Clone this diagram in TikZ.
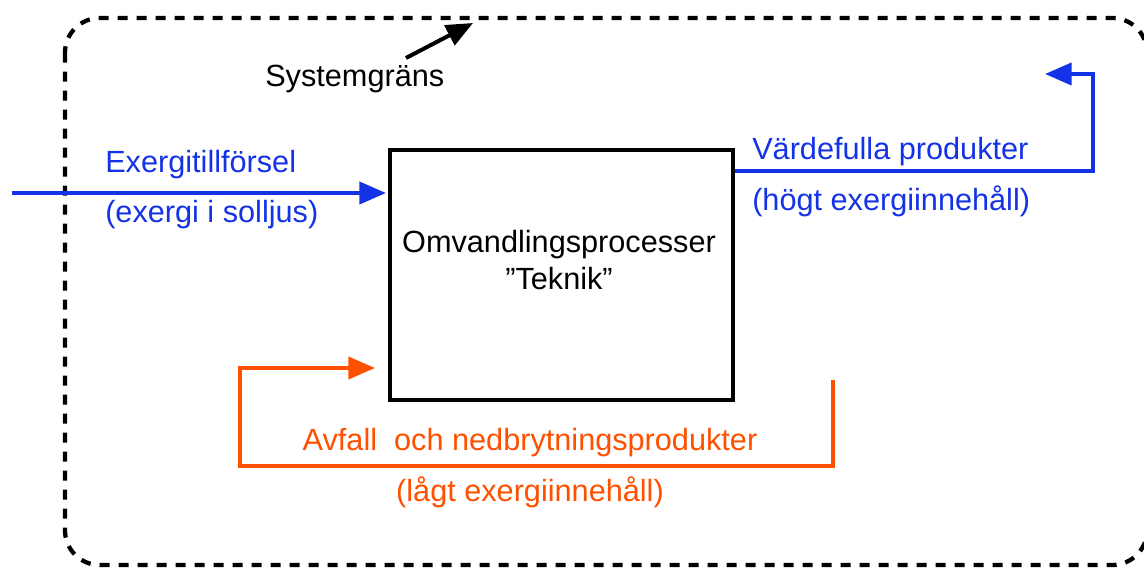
\documentclass[tikz,border=0pt]{standalone}
\usepackage{fontspec}
\setmainfont{Liberation Sans}
\usetikzlibrary{arrows.meta,calc,positioning}
\definecolor{flowblue}{RGB}{20,50,230}
\definecolor{wasteorange}{RGB}{255,80,0}

\begin{document}
\begin{tikzpicture}[
  x=0.75pt, y=-0.75pt,
  font=\fontsize{23}{27}\selectfont,
  border/.style={line width=3.2pt, dash pattern=on 7.5pt off 6.75pt, rounded corners=26pt},
  procbox/.style={draw, line width=3pt, minimum width=257.25pt, minimum height=187.5pt, inner sep=0pt},
  flow/.style={line width=3pt, line join=miter, -{Triangle[length=20pt,width=16.5pt]}},
  lbl/.style={inner sep=0pt}
]
\useasboundingbox (0,0) rectangle (1144,567);

%================================================
% SYSTEM BOUNDARY
%================================================
\draw[border] (65,18) rectangle (1147,565);

\node[lbl, anchor=base west] (sysname) at (265,86) {Systemgräns};
\coordinate (sysfrom) at (406,58);
\coordinate (systo) at (473,23);
\draw[flow] (sysfrom) -- (systo);

%================================================
% PROCESS
%================================================
\node[procbox] (proc) at (561.5,275) {};
\node[lbl, align=center, anchor=base] (proctext) at (559,289)
  {Omvandlingsprocesser\\[0.75pt]”Teknik”};

%================================================
% INPUT (blue)
%================================================
\node[lbl, anchor=base west, text=flowblue] (intitle) at (105,172) {Exergitillförsel};
\node[lbl, anchor=base west, text=flowblue] (insub) at (105,222) {(exergi i solljus)};

\coordinate (insrc) at (12,193);
\draw[flow, flowblue, shorten >=1.5pt] (insrc) -- (insrc -| proc.west);

%================================================
% VALUABLE PRODUCTS (blue)
%================================================
\node[lbl, anchor=base west, text=flowblue] (prodtitle) at (752,159) {Värdefulla produkter};
\node[lbl, anchor=base west, text=flowblue] (prodsub) at (752,210) {(högt exergiinnehåll)};

\coordinate (prodout) at ($(proc.north east)+(0,23)$);
\coordinate (prodturn) at (1093,74);
\coordinate (prodend) at (1045,74);
\draw[flow, flowblue] (prodout) -- (prodout -| prodturn) -- (prodturn) -- (prodend);

%================================================
% WASTE (orange)
%================================================
\node[lbl, anchor=base, text=wasteorange] (wastetitle) at (530,450) {Avfall\ \ och nedbrytningsprodukter};
\node[lbl, anchor=base, text=wasteorange] (wastesub) at (530,501) {(lågt exergiinnehåll)};

\coordinate (wastesrc) at (833,380);
\coordinate (wastelow) at (240,466);
\coordinate (wasteend) at (375,368);
\draw[flow, wasteorange] (wastesrc) -- (wastesrc |- wastelow) -- (wastelow)
  -- (wastelow |- wasteend) -- (wasteend);

\end{tikzpicture}
\end{document}
